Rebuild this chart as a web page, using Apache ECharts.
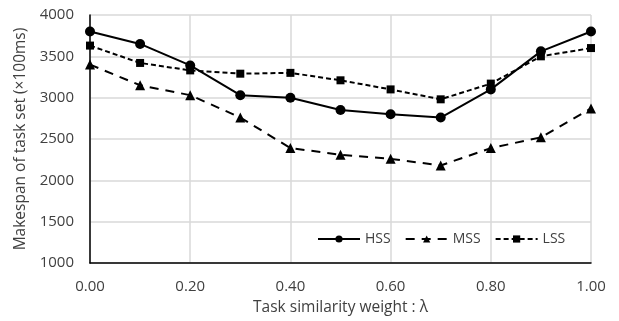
<!DOCTYPE html>
<html>
<head>
<meta charset="utf-8">
<script src="https://cdn.jsdelivr.net/npm/echarts@6/dist/echarts.min.js"></script>
<style>
  html, body { margin: 0; padding: 0; background: #fff; }
  #chart { width: 619px; height: 321px; }
</style>
</head>
<body>
<div id="chart"></div>
<script>
// 数据
const lambdas = [0, 0.1, 0.2, 0.3, 0.4, 0.5, 0.6, 0.7, 0.8, 0.9, 1.0];
const hss = [3800, 3650, 3390, 3030, 3000, 2850, 2800, 2760, 3100, 3560, 3800];
const mss = [3400, 3150, 3030, 2760, 2390, 2310, 2260, 2180, 2390, 2520, 2870];
const lss = [3630, 3420, 3330, 3290, 3300, 3210, 3100, 2980, 3170, 3500, 3600];

const font = 'Open Sans';
const toPairs = (vals) => vals.map((v, i) => [lambdas[i], v]);

const chart = echarts.init(document.getElementById('chart'));

const option = {
  animation: false,
  textStyle: { fontFamily: font, color: '#404040' },
  grid: { left: 90, right: 28, top: 15, bottom: 57 },
  legend: {
    left: 312,
    top: 227,
    itemWidth: 42,
    itemHeight: 9,
    itemGap: 14,
    textStyle: { fontFamily: font, fontSize: 14, color: '#404040' },
    data: ['HSS', 'MSS', 'LSS']
  },
  xAxis: {
    type: 'value',
    min: 0,
    max: 1,
    interval: 0.2,
    name: 'Task similarity weight : λ',
    nameLocation: 'middle',
    nameGap: 37,
    nameTextStyle: { fontFamily: font, fontSize: 15.5, color: '#404040' },
    axisLine: { lineStyle: { color: '#000', width: 1.5 } },
    axisTick: { show: false },
    axisLabel: {
      margin: 16,
      fontSize: 15,
      color: '#404040',
      formatter: (v) => v.toFixed(2)
    },
    splitLine: { show: true, lineStyle: { color: '#d9d9d9', width: 1.5 } }
  },
  yAxis: {
    type: 'value',
    min: 1000,
    max: 4000,
    interval: 500,
    name: 'Makespan of task set (×100ms)',
    nameLocation: 'middle',
    nameGap: 55,
    nameTextStyle: { fontFamily: font, fontSize: 15.5, color: '#404040' },
    axisLine: { show: true, lineStyle: { color: '#000', width: 1.5 } },
    axisTick: { show: false },
    axisLabel: {
      margin: 16,
      fontSize: 15,
      color: '#404040',
      formatter: (v) => String(v)
    },
    splitLine: { show: true, lineStyle: { color: '#d9d9d9', width: 1.5 } }
  },
  series: [
    {
      name: 'HSS',
      type: 'line',
      data: toPairs(hss),
      symbol: 'circle',
      symbolSize: 10,
      itemStyle: { color: '#000' },
      lineStyle: { color: '#000', width: 2, type: 'solid' }
    },
    {
      name: 'MSS',
      type: 'line',
      data: toPairs(mss),
      symbol: 'triangle',
      symbolSize: 10,
      itemStyle: { color: '#000' },
      lineStyle: { color: '#000', width: 2, type: [9, 7] }
    },
    {
      name: 'LSS',
      type: 'line',
      data: toPairs(lss),
      symbol: 'rect',
      symbolSize: 8,
      itemStyle: { color: '#000' },
      lineStyle: { color: '#000', width: 2, type: [5, 3] }
    }
  ]
};

chart.setOption(option);
</script>
</body>
</html>
